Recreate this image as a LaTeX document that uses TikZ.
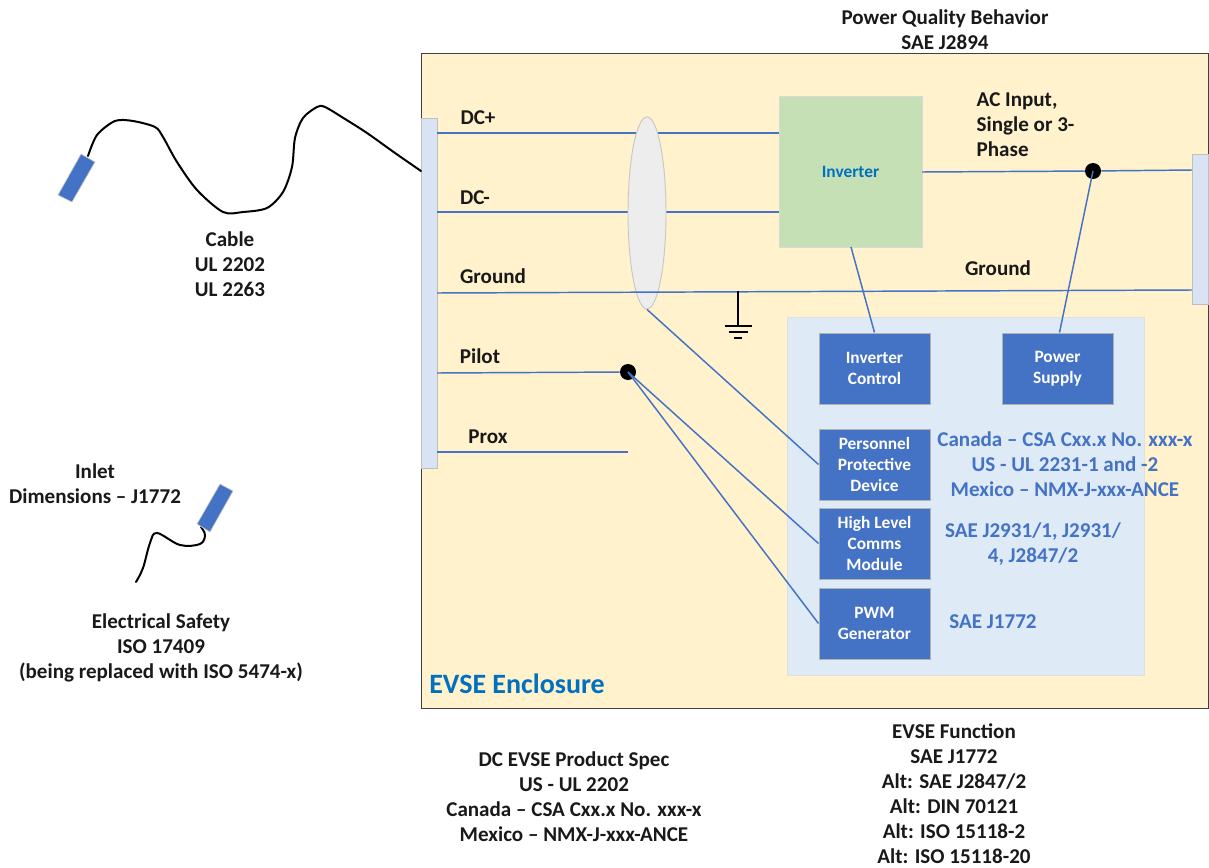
\documentclass[tikz,border=0pt]{standalone}
\usepackage{fontspec}
\setmainfont{Carlito}
\usetikzlibrary{shapes.geometric,calc}
\definecolor{encl}{HTML}{FFF2CC}
\definecolor{conn}{HTML}{DAE3F3}
\definecolor{panel}{HTML}{DEEAF6}
\definecolor{blu}{HTML}{4472C4}
\definecolor{grn}{HTML}{C5E0B4}
\definecolor{deep}{HTML}{0070C0}
\tikzset{
 x=0.75pt,y=-0.75pt,
 rectnode/.style={draw=black!30,line width=0.7pt,anchor=north west,inner sep=0,align=center},
 bluebox/.style={rectnode,fill=blu,minimum width=83.25pt,minimum height=53.25pt,text=white,font=\bfseries\fontsize{13}{15.8}\selectfont},
 wire/.style={draw=blu,line width=1.1pt},
 cablew/.style={draw=black,line width=1.5pt,line cap=round},
 dotn/.style={circle,fill=black,inner sep=0,minimum size=12pt},
 lab/.style={font=\bfseries\fontsize{15.8}{18.75}\selectfont,align=center,text=black!90},
 bluelab/.style={font=\bfseries\fontsize{15.8}{18.75}\selectfont,align=center,text=blu},
}
\begin{document}
\begin{tikzpicture}
\useasboundingbox (0,0) rectangle (1209,867);
% enclosure
\node[rectnode,draw=black!75,fill=encl,minimum width=590.25pt,minimum height=490.5pt] (encl) at (420.5,53.5) {};
\node[rectnode,draw=black!12,fill=panel,minimum width=267.75pt,minimum height=268.5pt] (panel) at (786.5,316.5) {};
% connector blocks
\node[rectnode,fill=conn,draw=black!25,minimum width=12pt,minimum height=262.5pt] (lc) at (420.5,117.5) {};
\node[rectnode,fill=conn,draw=black!25,minimum width=12pt,minimum height=112.5pt] (rc) at (1191.5,153.5) {};
\node[rectnode,fill=grn,draw=black!15,minimum width=107.25pt,minimum height=113.25pt] (inv) at (778.5,95.5) {};
\node[text=deep,font=\bfseries\fontsize{13}{14}\selectfont] (invlab) at (850.5,172) {Inverter};
% coordinates
\coordinate (a1) at (437,133);
\coordinate (a2) at (437,212);
\coordinate (a3) at (437,293);
\coordinate (a3r) at (1192,290);
\coordinate (a4) at (437,373);
\coordinate (a5) at (437,452);
\coordinate (a5r) at (628,452);
\coordinate (acl) at (922,172);
\coordinate (acr) at (1192,170);
\coordinate (gt) at (738,291);
\coordinate (gb) at (738,326);
\coordinate (invb) at (851,247);
% wires under ellipse
\draw[wire] (a1) -- (a1 -| inv.west);
\draw[wire] (a2) -- (a2 -| inv.west);
\node[ellipse,draw=black!22,fill=black!7,line width=0.7pt,minimum width=28.5pt,minimum height=144pt,inner sep=0] (ell) at (647,213) {};
\draw[wire] (a3) -- (a3r);
% boxes
\node[bluebox] (ic) at (818.5,332.5) {Inverter\\Control};
\node[bluebox] (ps) at (1001.5,332.5) {Power\\Supply};
\node[bluebox] (ppd) at (818.5,428.5) {Personnel\\Protective\\Device};
\node[bluebox] (hl) at (818.5,507.5) {High Level\\Comms\\Module};
\node[bluebox] (pwm) at (818.5,587.5) {PWM\\Generator};
% dots
\node[dotn] (d1) at (1093,171) {};
\node[dotn] (d2) at (628,372) {};
% wires
\draw[wire] (acl) -- (d1) -- (acr);
\draw[wire] (d1.center) -- ($(ps.north west)+(58,0)$);
\draw[wire] (invb) -- (ic.north);
\draw[wire] (ell.south) -- (ppd.west);
\draw[wire] (a4) -- (d2);
\draw[wire] (d2.center) -- (hl.west);
\draw[wire] (d2.center) -- (pwm.west);
\draw[wire] (a5) -- (a5r);
% ground symbol
\draw[black,line width=1.5pt] (gt) -- (gb);
\draw[black,line width=2.2pt] ($(gb)+(-13.5,0)$) -- ($(gb)+(13.5,0)$);
\draw[black,line width=2.2pt] ($(gb)+(-9.5,6)$) -- ($(gb)+(9.5,6)$);
\draw[black,line width=2.2pt] ($(gb)+(-4,12)$) -- ($(gb)+(4,12)$);
% cables
\coordinate (cs) at (88,156);
\coordinate (ce) at (421,171);
\draw[cablew] plot[smooth,tension=0.5] coordinates {(cs) (97,135) (115,121) (133,121) (155,127) (163,137) (177,162) (197,190) (223,212) (243,212) (267,208) (283,192) (292,167) (295,138) (303,118) (317,107) (325,107) (345,119) (367,133) (395,153) (ce)};
\path[fill=blu,draw=black!20,line width=0.5pt] (81,154) -- (95,162) -- (72,202) -- (58,195) -- cycle;
\draw[cablew] plot[smooth,tension=0.6] coordinates {(201,527) (205,535) (200,544) (180,545) (157,533) (150,543) (143,568) (136,582)};
\path[fill=blu,draw=black!20,line width=0.5pt] (220,484) -- (233,491) -- (210,532) -- (197,524) -- cycle;
% labels
\node[lab] (l1) at (945,30) {Power Quality Behavior\\SAE J2894};
\node[lab,align=left,anchor=north west] (l2) at (972,88) {AC Input,\\Single or 3-\\Phase};
\node[lab] (l3) at (478,118) {DC+};
\node[lab] (l4) at (475,198) {DC-};
\node[lab] (l5) at (493,276.5) {Ground};
\node[lab] (l6) at (480,356.5) {Pilot};
\node[lab] (l7) at (488,437) {Prox};
\node[lab] (l8) at (998,268.5) {Ground};
\node[lab] (l9) at (230,264.5) {Cable\\UL 2202\\UL 2263};
\node[lab] (l10) at (95,484) {Inlet\\Dimensions – J1772};
\node[lab] (l11) at (161,647.5) {Electrical Safety\\ISO 17409\\(being replaced with ISO 5474-x)};
\node[lab] (l12) at (574,797) {DC EVSE Product Spec\\US - UL 2202\\Canada – CSA Cxx.x No. xxx-x\\Mexico – NMX-J-xxx-ANCE};
\node[lab] (l13) at (954,794) {EVSE Function\\SAE J1772\\Alt: SAE J2847/2\\Alt: DIN 70121\\Alt: ISO 15118-2\\Alt: ISO 15118-20};
\node[bluelab] (b1) at (1065,464) {Canada – CSA Cxx.x No. xxx-x\\US - UL 2231-1 and -2\\Mexico – NMX-J-xxx-ANCE};
\node[bluelab] (b2) at (1033,544) {SAE J2931/1, J2931/\\4, J2847/2};
\node[bluelab] (b3) at (993,622) {SAE J1772};
\node[font=\bfseries\fontsize{21}{24}\selectfont,text=deep] (b4) at (517,683.5) {EVSE Enclosure};
\end{tikzpicture}
\end{document}
